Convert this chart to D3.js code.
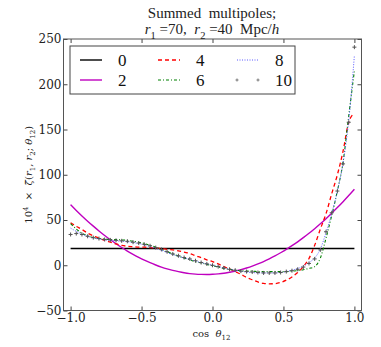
<!DOCTYPE html>
<html>
<head>
<meta charset="utf-8">
<script src="https://cdn.jsdelivr.net/npm/d3@7"></script>
<style>
  body { margin: 0; background: #fff; }
  svg text { white-space: pre; }
</style>
</head>
<body>
<div id="chart" style="width:381px;height:347px"></div>
<script>
// cos(theta_12) sample points
const cosTheta = [-1.00, -0.96, -0.92, -0.88, -0.84, -0.80, -0.76, -0.72, -0.68, -0.64,
    -0.60, -0.56, -0.52, -0.48, -0.44, -0.40, -0.36, -0.32, -0.28, -0.24,
    -0.20, -0.16, -0.12, -0.08, -0.04, 0.00, 0.04, 0.08, 0.12, 0.16,
    0.20, 0.24, 0.28, 0.32, 0.36, 0.40, 0.44, 0.48, 0.52, 0.56,
    0.60, 0.64, 0.68, 0.72, 0.76, 0.80, 0.84, 0.88, 0.92, 0.96, 1.00];

// summed up to l = 0 (flat)
const cosL0 = [-1.0, 1.0];
const zetaL0 = [18.5, 18.5];

const zetaL2 = [67.0, 60.6, 54.5, 48.7, 43.2, 37.9, 32.9, 28.2, 23.8, 19.6,
    15.7, 12.1, 8.7, 5.6, 2.8, 0.3, -2.0, -4.0, -5.7, -7.1,
    -8.3, -9.2, -9.8, -10.1, -10.2, -10.0, -9.5, -8.8, -7.7, -6.5,
    -4.9, -3.0, -0.9, 1.5, 4.1, 7.1, 10.3, 13.8, 17.5, 21.6,
    25.9, 30.5, 35.3, 40.4, 45.8, 51.5, 57.5, 63.7, 70.2, 77.0, 84.0];

const zetaL4 = [47, 43, 39.5, 35.5, 32.5, 30, 27.5, 25.5, 23.5, 22,
    21, 20.5, 20, 20, 19.5, 19, 18.5, 17.5, 17, 16,
    14.5, 13, 10.5, 8.5, 6, 4, 1.5, -1.5, -4, -7,
    -10, -13.5, -16, -18.5, -20, -20.5, -20.3, -19, -16.5, -13,
    -8, -1.5, 7.5, 22, 40, 57, 79, 100, 126, 158, 168];

const zetaL6 = [46, 40, 35.5, 32.5, 30.5, 29.5, 29, 28.5, 28.5, 28,
    27.5, 26.5, 25.5, 24, 22, 20, 17.5, 15, 12.5, 10,
    8, 6, 4, 2.5, 1, -0.5, -2, -3.5, -4.5, -5.5,
    -6, -6.5, -6.5, -7, -7, -7, -7, -7, -7, -6.5,
    -6, -5, -3.5, -1.5, 8, 30, 55, 82, 114, 165, 215];

const zetaL8 = [41, 37.5, 34.5, 32, 30, 29, 28, 27.5, 27, 26.5,
    26, 25, 24, 22.5, 20.5, 18.5, 16.5, 14, 12, 10,
    8, 6.5, 4.5, 3, 1.5, 0, -1.5, -3, -4.5, -5.5,
    -6.5, -7.5, -8, -8.5, -8.5, -8.5, -8.5, -8, -7, -5.5,
    -3.5, -1, 3, 8, 18, 36, 57, 82, 113, 160, 232];

const zetaL10 = [34, 35, 34, 32, 30.5, 29.5, 28.5, 28, 27.5, 27,
    26.5, 25.5, 24.5, 23, 21.5, 19.5, 17.5, 15, 12.5, 10.5,
    8.5, 7, 5, 3, 1.5, 0, -1.5, -3, -4.5, -5.5,
    -6.5, -7, -7.5, -8, -8.5, -8.5, -8.5, -8, -7, -6,
    -4.5, -2, 2, 7, 17, 37, 58, 82, 112, 158, 241];

const xTicks = [-1.0, -0.5, 0.0, 0.5, 1.0];
const yTicks = [-50, 0, 50, 100, 150, 200, 250];

const series = [
    { label: "0", xs: cosL0, ys: zetaL0, color: "#000000", width: 1.4, dash: null },
    { label: "2", xs: cosTheta, ys: zetaL2, color: "#bf00bf", width: 1.4, dash: null },
    { label: "4", xs: cosTheta, ys: zetaL4, color: "#ff0000", width: 1.3, dash: "4,3" },
    { label: "6", xs: cosTheta, ys: zetaL6, color: "#008000", width: 1.1, dash: "3,2,1,2" },
    { label: "8", xs: cosTheta, ys: zetaL8, color: "#5a5aff", width: 1, dash: "1,1.5" },
    { label: "10", xs: cosTheta, ys: zetaL10, color: "#555555", marker: true }
];

const width = 381, height = 347;
const margin = { top: 39, right: 19.5, bottom: 36.5, left: 63.5 };
const plotW = width - margin.left - margin.right;
const plotH = height - margin.top - margin.bottom;

const svg = d3.select("#chart").append("svg")
    .attr("width", width)
    .attr("height", height);

const x = d3.scaleLinear().domain([-1.05, 1.05]).range([0, plotW]);
const y = d3.scaleLinear().domain([-50, 250]).range([plotH, 0]);

const plot = svg.append("g")
    .attr("transform", "translate(" + margin.left + "," + margin.top + ")");

// rich text helper: segments with italic / sub / sup
function richText(sel, segs, size) {
    let shift = 0;
    segs.forEach(s => {
        let target = 0;
        let fs = size;
        if (s.sub) { target = size * 0.3; fs = size * 0.7; }
        if (s.sup) { target = -size * 0.4; fs = size * 0.7; }
        sel.append("tspan")
            .attr("dy", target - shift)
            .attr("font-size", fs)
            .attr("font-style", s.i ? "italic" : "normal")
            .text(s.t);
        shift = target;
    });
}

// lines
const line = d3.line()
    .x(d => x(d[0]))
    .y(d => y(d[1]))
    .curve(d3.curveMonotoneX);

const clip = svg.append("clipPath").attr("id", "clip")
    .append("rect").attr("width", plotW).attr("height", plotH);
const lines = plot.append("g").attr("clip-path", "url(#clip)");

series.forEach(s => {
    const pts = s.xs.map((v, i) => [v, s.ys[i]]);
    if (s.marker) {
        lines.selectAll(".m" + s.label)
            .data(pts)
            .enter()
            .append("path")
            .attr("transform", d => "translate(" + x(d[0]) + "," + y(d[1]) + ")")
            .attr("d", "M-2,0H2M0,-2V2")
            .attr("stroke", s.color)
            .attr("stroke-width", 1);
    } else {
        lines.append("path")
            .datum(pts)
            .attr("fill", "none")
            .attr("stroke", s.color)
            .attr("stroke-width", s.width)
            .attr("stroke-dasharray", s.dash)
            .attr("d", line);
    }
});

// axes, ticks point inwards on all four sides
const fmtX = d3.format(".1f");
const fmtY = d3.format("d");

plot.append("g")
    .attr("transform", "translate(0," + plotH + ")")
    .call(d3.axisBottom(x).tickValues(xTicks).tickFormat(fmtX)
        .tickSize(-4).tickSizeOuter(0).tickPadding(3));
plot.append("g")
    .call(d3.axisTop(x).tickValues(xTicks).tickFormat("")
        .tickSize(-4).tickSizeOuter(0));
plot.append("g")
    .call(d3.axisLeft(y).tickValues(yTicks).tickFormat(fmtY)
        .tickSize(-4).tickSizeOuter(0).tickPadding(2));
plot.append("g")
    .attr("transform", "translate(" + plotW + ",0)")
    .call(d3.axisRight(y).tickValues(yTicks).tickFormat("")
        .tickSize(-4).tickSizeOuter(0));

plot.selectAll(".domain").remove();
plot.selectAll(".tick line").attr("stroke", "#444");
plot.selectAll(".tick text")
    .attr("font-family", "DejaVu Serif")
    .attr("font-size", 12)
    .attr("fill", "#222");

plot.append("rect")
    .attr("width", plotW)
    .attr("height", plotH)
    .attr("fill", "none")
    .attr("stroke", "#555")
    .attr("stroke-width", 1);

// legend
const legend = plot.append("g").attr("transform", "translate(6.5,7)");
legend.append("rect")
    .attr("width", 225)
    .attr("height", 48)
    .attr("fill", "#fff")
    .attr("stroke", "#444")
    .attr("stroke-width", 1);

const colX = [10, 88, 167];
series.forEach((s, i) => {
    const cx = colX[Math.floor(i / 2)];
    const cy = 14 + (i % 2) * 20;
    const g = legend.append("g").attr("transform", "translate(" + cx + "," + cy + ")");
    if (s.marker) {
        [0, 21].forEach(px => {
            g.append("path")
                .attr("transform", "translate(" + px + ",0)")
                .attr("d", "M-1.5,0H1.5M0,-1.5V1.5")
                .attr("stroke", "#777")
                .attr("stroke-width", 1);
        });
    } else {
        g.append("line")
            .attr("x1", 0).attr("x2", 22)
            .attr("stroke", s.color)
            .attr("stroke-width", s.width)
            .attr("stroke-dasharray", s.dash);
    }
    g.append("text")
        .attr("x", 38)
        .attr("y", 6)
        .attr("font-family", "Liberation Serif")
        .attr("font-size", 17)
        .attr("fill", "#111")
        .text(s.label);
});

// title
svg.append("text")
    .attr("x", 212).attr("y", 18)
    .attr("text-anchor", "middle")
    .attr("font-family", "Liberation Serif")
    .attr("font-size", 15)
    .attr("fill", "#222")
    .text("Summed  multipoles;");

const t2 = svg.append("text")
    .attr("x", 212).attr("y", 34)
    .attr("text-anchor", "middle")
    .attr("font-family", "Liberation Serif")
    .attr("font-size", 15)
    .attr("fill", "#222");
richText(t2, [
    { t: "r", i: true }, { t: "1", sub: true }, { t: " =70,  " },
    { t: "r", i: true }, { t: "2", sub: true }, { t: " =40  Mpc/" },
    { t: "h", i: true }
], 15);

// axis labels
const xl = svg.append("text")
    .attr("x", margin.left + x(0) - 1).attr("y", 337)
    .attr("text-anchor", "middle")
    .attr("font-family", "DejaVu Serif")
    .attr("font-size", 10)
    .attr("fill", "#222");
richText(xl, [{ t: "cos  " }, { t: "θ", i: true }, { t: "12", sub: true }], 10);

const yl = svg.append("text")
    .attr("transform", "translate(32," + (margin.top + plotH / 2) + ") rotate(-90)")
    .attr("text-anchor", "middle")
    .attr("font-family", "DejaVu Serif")
    .attr("font-size", 10)
    .attr("fill", "#222");
richText(yl, [
    { t: "10" }, { t: "4", sup: true }, { t: "  ×  " },
    { t: "ζ\u0304", i: true }, { t: "(" }, { t: "r", i: true }, { t: "1", sub: true },
    { t: ", " }, { t: "r", i: true }, { t: "2", sub: true }, { t: "; " },
    { t: "θ", i: true }, { t: "12", sub: true }, { t: ")" }
], 10);
</script>
</body>
</html>
